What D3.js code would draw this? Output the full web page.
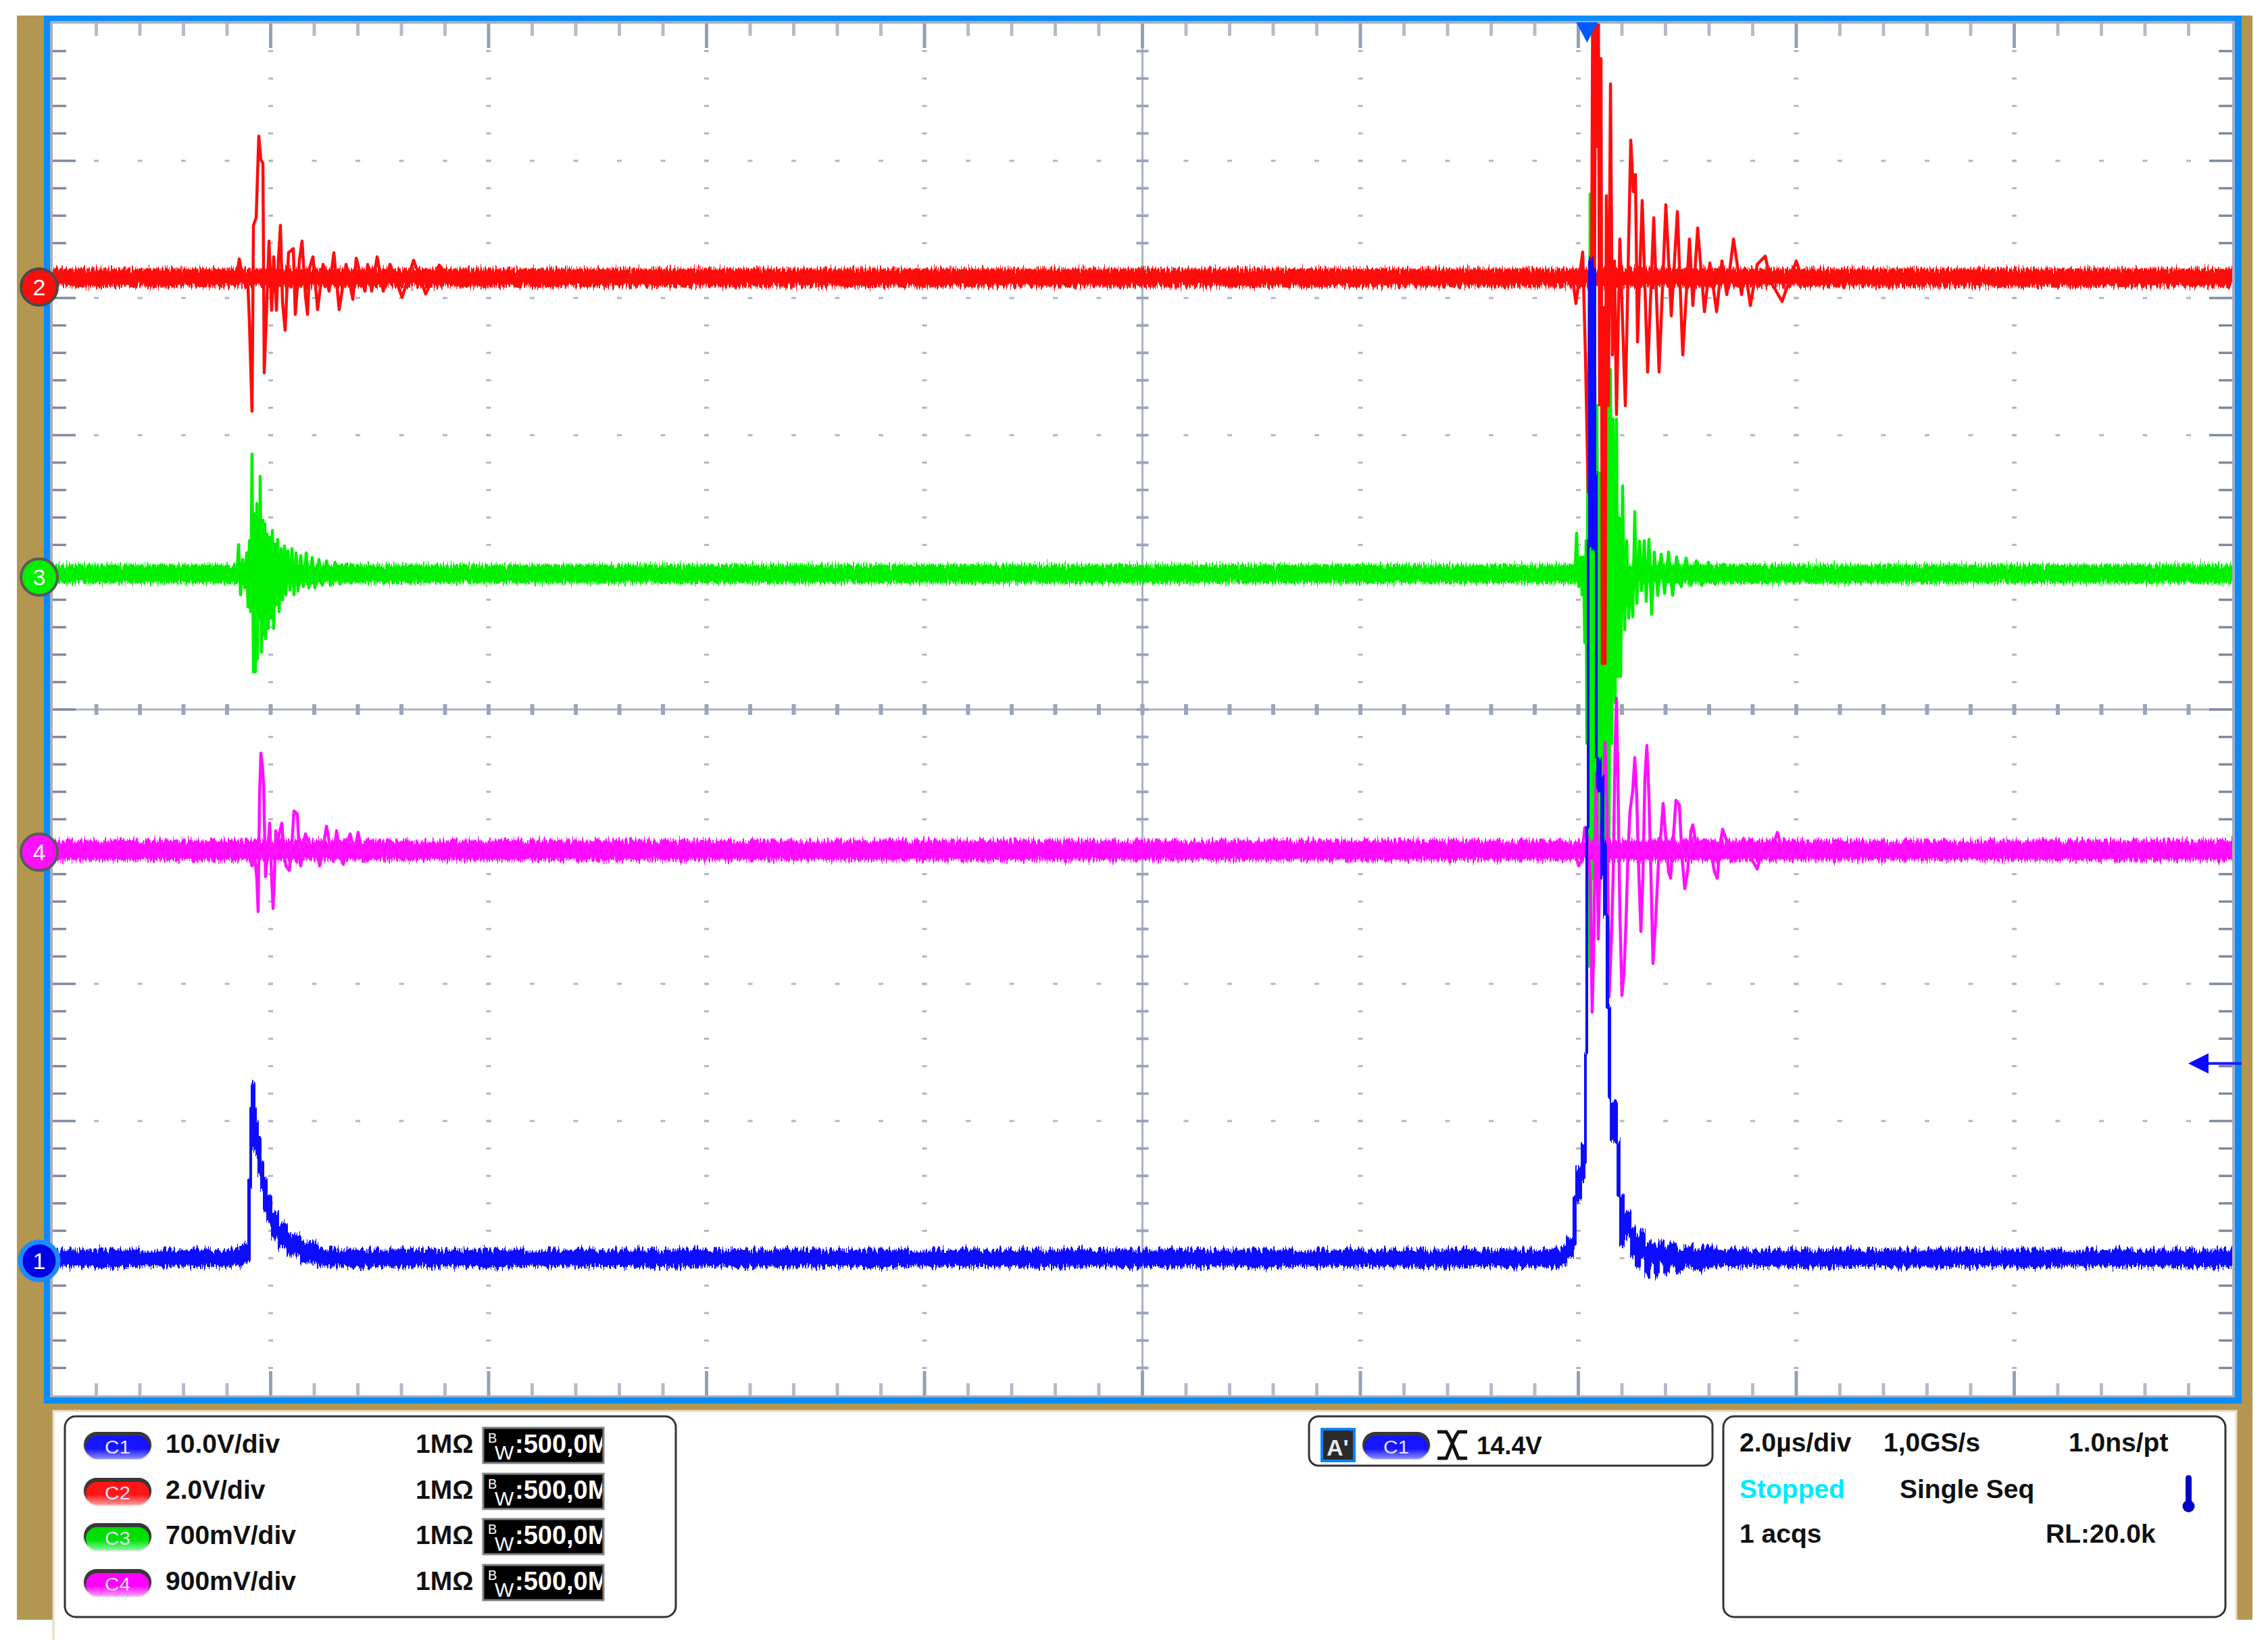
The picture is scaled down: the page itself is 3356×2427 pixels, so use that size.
<!DOCTYPE html>
<html><head><meta charset="utf-8">
<script src="https://cdn.jsdelivr.net/npm/d3@7"></script>
<style>body{margin:0;background:#fff;} svg{display:block;} text{font-family:"Liberation Sans",Arial,sans-serif;}</style>
</head><body><svg id="c" width="3356" height="2427"></svg>
<script>
// ---------------- data ----------------
const timeDomainUs = [0, 20];              // 2.0 µs/div x 10 div
const triggerTimeUs = 14.08;
const triggerLevelV = 14.4;
const channelNames = ["C1", "C2", "C3", "C4"];
const voltsPerDiv = [10.0, 2.0, 0.7, 0.9];
const offsetDivs = [-4.02, 3.08, 0.965, -1.04];
const scaleLabels = ["10.0V/div", "2.0V/div", "700mV/div", "900mV/div"];
const couplingLabels = ["1MΩ", "1MΩ", "1MΩ", "1MΩ"];
const bandwidthLabels = [":500,0M", ":500,0M", ":500,0M", ":500,0M"];
const timebaseRow1 = ["2.0µs/div", "1,0GS/s", "1.0ns/pt"];
const timebaseRow2 = ["Stopped", "Single Seq"];
const timebaseRow3 = ["1 acqs", "RL:20.0k"];

// C1 envelope [t µs, min V, max V]
const c1Envelope = [
[0,-0.39,0.79],[1.656,-0.30,0.94],[1.749,-0.10,1.28],[1.792,0.00,5.96],[1.811,5.22,11.13],[1.823,8.18,13.00],
[1.854,8.18,11.13],[1.867,7.59,10.15],[1.885,6.21,8.92],[1.910,5.12,7.44],[1.935,3.74,5.96],[1.966,2.86,4.73],
[2.009,1.67,3.50],[2.071,1.03,2.66],[2.152,0.39,1.87],[2.276,-0.10,1.38],[2.431,-0.39,0.89],[2.617,-0.39,0.79],
[13.842,-0.20,1.03],[13.892,0.30,1.67],[13.953,1.03,4.63],[13.978,4.48,6.75],[14.028,5.91,8.42],[14.059,7.29,15.22],
[14.071,15.22,31.63],[14.084,31.63,52.51],[14.096,51.97,72.96],[14.133,51.97,72.22],[14.158,36.75,57.44],
[14.171,34.19,36.75],[14.208,27.88,35.27],[14.233,25.12,30.34],[14.257,18.62,25.12],[14.276,11.97,18.62],
[14.295,8.72,11.58],[14.357,4.78,8.72],[14.381,1.08,4.78],[14.419,1.77,3.65],
[14.481,0.30,2.51],[14.524,-0.34,1.77],[14.568,0.20,2.17],[14.611,-1.03,1.28],[14.654,-0.20,1.38],[14.698,-1.08,1.03],
[14.741,-0.10,1.48],[14.785,-0.89,0.99],[14.834,-0.30,1.28],[14.896,-0.79,0.89],[14.971,-0.39,1.18],[15.051,-0.69,0.89],
[15.144,-0.49,1.03],[15.269,-0.39,0.79],[20,-0.39,0.79]
];

// baseline noise bands [t µs, min V, max V]
const c2Band = [[0,0.01,0.26],[20,0.01,0.26]];
const c3Band = [[0,-0.028,0.062],[20,-0.028,0.062]];
const c4Band = [[0,-0.049,0.075],[20,-0.049,0.075]];

// ringing bursts [t µs, V]
const c2Burst1 = [
[1.687,0.13],[1.712,0.41],[1.736,0.20],[1.792,0.00],[1.805,-0.51],[1.829,-1.81],[1.842,0.90],[1.867,1.01],[1.891,2.20],
[1.910,1.86],[1.929,1.80],[1.941,-1.25],[1.960,-0.45],[1.985,0.67],[2.009,-0.34],[2.028,0.44],[2.053,-0.34],[2.071,0.39],
[2.090,0.90],[2.109,-0.23],[2.133,-0.63],[2.164,0.50],[2.208,0.56],[2.226,-0.40],[2.264,0.39],[2.288,0.67],[2.319,-0.12],
[2.338,-0.40],[2.357,0.28],[2.388,0.44],[2.431,-0.33],[2.481,0.33],[2.536,-0.06],[2.580,0.50],[2.629,-0.33],[2.692,0.33],
[2.754,-0.18],[2.785,0.42],[2.865,-0.06],[2.890,0.33],[2.927,-0.06],[2.977,0.44],[3.033,-0.06],[3.095,0.33],[3.206,-0.15],
[3.312,0.39],[3.423,-0.10],[3.547,0.32],[3.640,0.13]
];
const c2Burst2 = [
[13.904,0.14],[13.941,0.20],[13.978,-0.24],[14.009,0.14],[14.040,0.51],[14.065,-0.99],[14.090,-2.99],[14.102,0.33],
[14.115,-2.68],[14.133,4.78],[14.146,-1.33],[14.158,4.78],[14.171,2.05],[14.183,4.78],[14.195,-1.72],[14.208,3.33],
[14.220,-5.49],[14.233,-0.30],[14.245,-5.49],[14.257,1.33],[14.276,-1.73],[14.295,2.96],[14.313,-0.99],[14.332,0.38],
[14.350,-1.86],[14.381,0.70],[14.431,-1.73],[14.481,2.14],[14.505,1.39],[14.524,1.64],[14.543,-0.80],[14.586,1.26],
[14.636,-1.24],[14.692,1.01],[14.741,-1.24],[14.803,1.20],[14.853,-0.42],[14.909,1.10],[14.958,-0.99],[15.020,0.70],
[15.051,-0.27],[15.095,0.86],[15.157,-0.36],[15.207,0.35],[15.269,-0.36],[15.318,0.38],[15.362,-0.11],[15.424,0.70],
[15.498,-0.11],[15.529,0.27],[15.579,-0.27],[15.641,0.33],[15.715,0.45],[15.765,0.08],[15.870,-0.21],[16.000,0.38],
[16.075,0.01],[16.168,0.20]
];
const c3Burst1 = [
[1.625,0.014],[1.662,0.055],[1.687,-0.028],[1.705,0.166],[1.724,-0.090],[1.743,0.090],[1.761,-0.055],[1.780,0.124],
[1.792,-0.152],[1.805,0.186],[1.817,-0.176],[1.829,0.628],[1.842,-0.483],[1.854,0.324],[1.860,-0.483],[1.873,0.376],
[1.879,-0.417],[1.891,0.221],[1.898,-0.210],[1.904,0.514],[1.916,-0.383],[1.929,0.290],[1.935,-0.297],[1.947,0.272],
[1.953,-0.314],[1.966,0.221],[1.978,-0.262],[1.991,0.203],[2.003,-0.210],[2.016,0.238],[2.028,-0.262],[2.040,0.169],
[2.053,-0.141],[2.065,0.193],[2.078,-0.176],[2.096,0.145],[2.109,-0.117],[2.127,0.159],[2.140,-0.090],[2.158,0.134],
[2.177,-0.066],[2.195,0.145],[2.214,-0.090],[2.233,0.124],[2.251,-0.072],[2.276,0.110],[2.301,-0.048],[2.326,0.124],
[2.350,-0.055],[2.381,0.100],[2.406,-0.055],[2.443,0.090],[2.474,-0.041],[2.512,0.083],[2.549,-0.041],[2.592,0.076],
[2.636,-0.034],[2.692,0.066],[2.741,-0.028],[2.803,0.048],[2.865,-0.014],[2.927,0.017]
];
const c3Burst2 = [
[13.904,0.014],[13.941,0.055],[13.966,-0.028],[13.984,0.224],[14.003,-0.048],[14.022,0.103],[14.034,-0.090],[14.047,0.103],
[14.059,-0.334],[14.071,0.186],[14.078,-0.848],[14.090,1.014],[14.096,-1.986],[14.108,1.955],[14.115,-1.986],[14.127,1.614],
[14.139,-1.538],[14.152,1.024],[14.164,-1.193],[14.171,0.876],[14.183,-1.790],[14.195,0.531],[14.208,-1.393],[14.220,0.324],
[14.233,-1.393],[14.245,0.607],[14.257,-1.393],[14.270,1.059],[14.282,-1.393],[14.295,1.059],[14.307,-0.848],[14.319,0.807],
[14.338,-0.641],[14.350,0.807],[14.363,-0.507],[14.375,0.303],[14.388,-0.507],[14.406,0.466],[14.425,-0.269],[14.444,0.186],
[14.462,-0.210],[14.481,0.048],[14.499,-0.203],[14.518,0.334],[14.536,-0.134],[14.561,0.183],[14.580,-0.069],[14.605,0.186],
[14.623,-0.124],[14.648,0.193],[14.673,-0.190],[14.697,0.128],[14.729,-0.093],[14.760,0.117],[14.791,-0.083],[14.828,0.128],
[14.865,-0.093],[14.902,0.103],[14.946,-0.048],[14.989,0.097],[15.033,-0.041],[15.083,0.083],[15.132,-0.041],[15.194,0.076],
[15.256,-0.034],[15.330,0.066],[15.405,-0.028],[15.486,0.048],[15.579,-0.014],[15.671,0.017]
];
const c4Burst1 = [
[1.687,0.01],[1.761,0.03],[1.798,0.00],[1.829,-0.09],[1.854,-0.03],[1.873,-0.17],[1.885,-0.39],[1.898,0.36],[1.910,0.65],
[1.923,0.58],[1.935,0.45],[1.953,-0.16],[1.972,0.00],[1.991,0.19],[2.009,-0.17],[2.022,-0.37],[2.034,-0.17],[2.047,0.14],
[2.065,0.00],[2.078,0.12],[2.102,0.19],[2.121,0.00],[2.140,-0.09],[2.171,-0.12],[2.195,0.05],[2.214,0.27],[2.245,0.25],
[2.264,-0.04],[2.276,-0.09],[2.319,0.12],[2.357,0.05],[2.381,0.00],[2.419,0.03],[2.450,-0.09],[2.481,0.03],[2.512,0.17],
[2.543,0.05],[2.574,-0.06],[2.605,0.14],[2.636,0.00],[2.667,-0.08],[2.698,0.05],[2.729,0.12],[2.766,0.00],[2.803,0.13],
[2.853,-0.06],[2.896,0.05],[2.946,-0.03],[2.989,0.07],[3.039,-0.02],[3.088,0.06],[3.144,0.01]
];
const c4Burst2 = [
[13.904,0.03],[13.966,0.00],[14.003,-0.09],[14.028,-0.06],[14.059,0.16],[14.090,0.09],[14.108,-0.17],[14.127,-1.05],
[14.139,-0.70],[14.164,0.52],[14.183,-0.57],[14.202,0.05],[14.226,0.36],[14.245,0.72],[14.264,0.27],[14.282,-0.95],
[14.301,-0.62],[14.319,-0.17],[14.338,0.71],[14.350,1.01],[14.363,0.49],[14.381,-0.39],[14.400,-0.94],[14.419,-0.79],
[14.437,-0.47],[14.456,0.00],[14.474,0.27],[14.499,0.40],[14.518,0.62],[14.536,0.36],[14.555,-0.14],[14.574,-0.52],
[14.592,-0.17],[14.611,0.49],[14.629,0.70],[14.648,0.36],[14.667,-0.17],[14.685,-0.73],[14.710,-0.44],[14.735,-0.07],
[14.760,0.14],[14.778,0.32],[14.803,0.09],[14.828,-0.13],[14.847,-0.17],[14.871,0.09],[14.896,0.34],[14.927,0.31],
[14.952,-0.04],[14.977,-0.24],[15.002,-0.13],[15.033,0.14],[15.051,0.18],[15.076,0.07],[15.101,-0.03],[15.132,0.07],
[15.169,0.08],[15.207,0.03],[15.250,-0.13],[15.275,-0.17],[15.300,0.05],[15.324,0.15],[15.362,0.07],[15.405,0.03],
[15.455,-0.02],[15.517,0.09],[15.579,-0.03],[15.641,-0.11],[15.703,0.05],[15.765,0.00],[15.827,0.13],[15.889,-0.04],
[15.982,0.07],[16.075,-0.02],[16.199,0.05],[16.323,0.01]
];

// ---------------- styles ----------------
const traceColors = ["#0a0aff", "#ff0d0d", "#00f000", "#ff10ff"];
const pillTop = ["#1414ff", "#ff1515", "#00dd00", "#ff00ff"];
const pillBottom = ["#8c8cff", "#ff9a9a", "#7dff9a", "#ff9cff"];
const markerStroke = ["#1a8cff", "#4a4a4a", "#5a5a5a", "#5a5a5a"];

// ---------------- drawing ----------------
const svg = d3.select("#c");
const P = {x0: 78, x1: 3303, y0: 35, y1: 2065};
const x = d3.scaleLinear().domain(timeDomainUs).range([P.x0, P.x1]);
const yDiv = d3.scaleLinear().domain([-5, 5]).range([P.y1, P.y0]);
const yCh = (i, v) => yDiv(offsetDivs[i] + v / voltsPerDiv[i]);

const defs = svg.append("defs");
defs.append("clipPath").attr("id", "plotclip").append("rect")
  .attr("x", P.x0).attr("y", P.y0).attr("width", P.x1 - P.x0).attr("height", P.y1 - P.y0);
channelNames.forEach((n, i) => {
  const gr = defs.append("linearGradient").attr("id", "pg" + i).attr("x1", 0).attr("y1", 0).attr("x2", 0).attr("y2", 1);
  gr.append("stop").attr("offset", "0%").attr("stop-color", pillTop[i]);
  gr.append("stop").attr("offset", "55%").attr("stop-color", pillTop[i]);
  gr.append("stop").attr("offset", "100%").attr("stop-color", pillBottom[i]);
});
defs.append("clipPath").attr("id", "bwclip").append("rect").attr("x", 0).attr("y", -60).attr("width", 176).attr("height", 100);
// display-raster roughness of the trace edges (vertical only)
const flt = defs.append("filter").attr("id", "rough").attr("filterUnits", "userSpaceOnUse")
  .attr("x", 0).attr("y", 0).attr("width", 3356).attr("height", 2427);
flt.append("feTurbulence").attr("type", "fractalNoise").attr("baseFrequency", "0.45 0.03").attr("numOctaves", 2).attr("seed", 7).attr("result", "n0");
flt.append("feColorMatrix").attr("in", "n0").attr("type", "matrix")
  .attr("values", "0 0 0 0 0.5  0 1 0 0 0  0 0 0 0 0  0 0 0 0 1").attr("result", "n");
flt.append("feDisplacementMap").attr("in", "SourceGraphic").attr("in2", "n").attr("scale", 22)
  .attr("xChannelSelector", "R").attr("yChannelSelector", "G");

// frame
svg.append("rect").attr("x", 25).attr("y", 23).attr("width", 3308).attr("height", 2374).attr("fill", "#b39650");
svg.append("rect").attr("x", 78).attr("y", 2087).attr("width", 3232).attr("height", 340).attr("fill", "#ffffff");
svg.append("path").attr("d", "M79,2427 V2088 H3309 V2397").attr("fill", "none").attr("stroke", "#e8dcc0").attr("stroke-width", 3);
svg.append("rect").attr("x", 65).attr("y", 23).attr("width", 3252).attr("height", 2054).attr("fill", "#0a8cff");
svg.append("rect").attr("x", 74).attr("y", 31).attr("width", 3233).attr("height", 2037).attr("fill", "#a6afc1");
svg.append("rect").attr("x", P.x0).attr("y", P.y0).attr("width", P.x1 - P.x0).attr("height", P.y1 - P.y0).attr("fill", "#ffffff");

// grid
const grid = svg.append("g");
const near = (a, b) => Math.abs(a - b) < 1e-6;
const minorT = d3.range(0, 20.0001, 0.4);
const minorD = d3.range(-5, 5.0001, 0.2);
const majorT = d3.range(0, 20.0001, 2);
const majorD = d3.range(-5, 5.0001, 1);
const isMajT = t => near(t / 2, Math.round(t / 2));
const isMajD = d => near(d, Math.round(d));
majorT.filter(t => t > 0.1 && t < 19.9 && !near(t, 10)).forEach(t => {
  minorD.filter(d => d > -4.9 && d < 4.9).forEach(d => {
    grid.append("rect").attr("x", x(t) - 3.5).attr("y", yDiv(d) - 1.5).attr("width", 7).attr("height", 3).attr("fill", "#aeb6c6");
  });
});
majorD.filter(d => d > -4.9 && d < 4.9 && !near(d, 0)).forEach(d => {
  minorT.filter(t => t > 0.1 && t < 19.9).forEach(t => {
    grid.append("rect").attr("x", x(t) - 3.5).attr("y", yDiv(d) - 1.5).attr("width", 7).attr("height", 3).attr("fill", "#aeb6c6");
  });
});
grid.append("line").attr("x1", P.x0).attr("x2", P.x1).attr("y1", yDiv(0)).attr("y2", yDiv(0)).attr("stroke", "#aab2c3").attr("stroke-width", 3);
grid.append("line").attr("x1", x(10)).attr("x2", x(10)).attr("y1", P.y0).attr("y2", P.y1).attr("stroke", "#aab2c3").attr("stroke-width", 3);
minorT.filter(t => t > 0.1 && t < 19.9).forEach(t => {
  grid.append("rect").attr("x", x(t) - 3).attr("y", yDiv(0) - 8).attr("width", 6).attr("height", 16).attr("fill", "#9ca5b8");
});
minorD.filter(d => d > -4.9 && d < 4.9).forEach(d => {
  grid.append("rect").attr("x", x(10) - 9).attr("y", yDiv(d) - 2).attr("width", 18).attr("height", 4).attr("fill", "#9ca5b8");
});
minorT.filter(t => t > 0.1 && t < 19.9).forEach(t => {
  const m = isMajT(t), len = m ? 36 : 18, col = m ? "#96a0b4" : "#b3bbca";
  grid.append("rect").attr("x", x(t) - 2.5).attr("y", P.y0).attr("width", 5).attr("height", len).attr("fill", col);
  grid.append("rect").attr("x", x(t) - 2.5).attr("y", P.y1 - len).attr("width", 5).attr("height", len).attr("fill", col);
});
minorD.filter(d => d > -4.9 && d < 4.9).forEach(d => {
  const m = isMajD(d), len = m ? 34 : 20;
  grid.append("rect").attr("x", P.x0).attr("y", yDiv(d) - 1.75).attr("width", len).attr("height", 3.5).attr("fill", "#7f89a0");
  grid.append("rect").attr("x", P.x1 - len).attr("y", yDiv(d) - 1.75).attr("width", len).attr("height", 3.5).attr("fill", "#7f89a0");
});

// traces
const tr = svg.append("g").attr("clip-path", "url(#plotclip)");
const band = i => d3.area().curve(d3.curveStepAfter).x(d => x(d[0])).y0(d => yCh(i, d[1])).y1(d => yCh(i, d[2]));
const line = i => d3.line().x(d => x(d[0])).y(d => yCh(i, d[1]));
function drawLine(g, i, data) {
  g.append("path").datum(data).attr("d", line(i)).attr("fill", "none").attr("stroke", traceColors[i])
    .attr("stroke-width", 4.5).attr("stroke-linejoin", "round");
}
function drawBand(g, i, data) {
  g.append("path").datum(data).attr("d", band(i)).attr("fill", traceColors[i]).attr("stroke", traceColors[i]).attr("stroke-width", 2);
}
[2, 3, 1, 0].forEach(i => {
  const g = tr.append("g");
  const rg = g.append("g").attr("filter", "url(#rough)");
  if (i === 2) { drawBand(rg, 2, c3Band); drawLine(g, 2, c3Burst1); drawLine(g, 2, c3Burst2); }
  if (i === 3) { drawBand(rg, 3, c4Band); drawLine(g, 3, c4Burst1); drawLine(g, 3, c4Burst2); }
  if (i === 1) { drawBand(rg, 1, c2Band); drawLine(g, 1, c2Burst1); drawLine(g, 1, c2Burst2); }
  if (i === 0) { drawBand(rg, 0, c1Envelope); }
});

// trigger time marker
const tx = x(triggerTimeUs);
svg.append("path").attr("d", `M${tx - 16},${P.y0 - 2} L${tx + 16},${P.y0 - 2} L${tx},${P.y0 + 28} Z`).attr("fill", "#0058ff");
// trigger level arrow
const ty = yCh(0, triggerLevelV);
svg.append("line").attr("x1", 3256).attr("x2", 3317).attr("y1", ty).attr("y2", ty).attr("stroke", "#1a1aff").attr("stroke-width", 4);
svg.append("path").attr("d", `M3238,${ty} L3268,${ty - 15} L3268,${ty + 15} Z`).attr("fill", "#0a0aff");

// channel ground markers
[0, 1, 2, 3].forEach(i => {
  const my = yDiv(offsetDivs[i]);
  const mg = svg.append("g");
  mg.append("circle").attr("cx", 58).attr("cy", my).attr("r", i === 0 ? 28 : 27)
    .attr("fill", i === 0 ? "#0000e6" : traceColors[i]).attr("stroke", markerStroke[i]).attr("stroke-width", i === 0 ? 7 : 4);
  mg.append("text").attr("x", 58).attr("y", my + 12).attr("text-anchor", "middle").attr("font-size", 34)
    .attr("fill", "#ffffff").text(String(i + 1));
});

function pill(cx, cy, i) {
  const g = svg.append("g");
  g.append("rect").attr("x", cx - 51).attr("y", cy - 22).attr("width", 102).attr("height", 42).attr("rx", 21).attr("fill", "#cfcfcf").attr("opacity", 0.6);
  g.append("rect").attr("x", cx - 50).attr("y", cy - 22).attr("width", 100).attr("height", 38).attr("rx", 19).attr("fill", "#383838");
  g.append("rect").attr("x", cx - 47).attr("y", cy - 16).attr("width", 94).attr("height", 34).attr("rx", 17).attr("fill", `url(#pg${i})`);
  g.append("text").attr("x", cx).attr("y", cy + 10).attr("text-anchor", "middle").attr("font-size", 27)
    .attr("fill", "#e6e6ff").attr("textLength", 38).attr("lengthAdjust", "spacingAndGlyphs").text(channelNames[i]);
}

const boxStyle = sel => sel.attr("fill", "#ffffff").attr("stroke", "#333333").attr("stroke-width", 3);
svg.append("rect").attr("x", 96).attr("y", 2096).attr("width", 904).attr("height", 297).attr("rx", 16).call(boxStyle);
const rowBase = [2150, 2218, 2285, 2353];
channelNames.forEach((n, i) => {
  const b = rowBase[i];
  pill(174, b - 9, i);
  svg.append("text").attr("x", 245).attr("y", b).attr("font-size", 39).attr("font-weight", "bold").attr("fill", "#111").text(scaleLabels[i]);
  svg.append("text").attr("x", 615).attr("y", b).attr("font-size", 39).attr("font-weight", "bold").attr("fill", "#111").text(couplingLabels[i]);
  const bw = svg.append("g").attr("transform", `translate(715,${b})`);
  bw.append("rect").attr("x", 0).attr("y", -37).attr("width", 178).attr("height", 52).attr("fill", "#000").attr("stroke", "#808080").attr("stroke-width", 3);
  const bt = bw.append("g").attr("clip-path", "url(#bwclip)");
  bt.append("text").attr("x", 7).attr("y", -15).attr("font-size", 20).attr("fill", "#fff").text("B");
  bt.append("text").attr("x", 17).attr("y", 10).attr("font-size", 30).attr("fill", "#fff").text("W");
  bt.append("text").attr("x", 47).attr("y", 0).attr("font-size", 38).attr("font-weight", "bold").attr("fill", "#fff").text(bandwidthLabels[i]);
});

svg.append("rect").attr("x", 1937).attr("y", 2096).attr("width", 597).attr("height", 73).attr("rx", 14).call(boxStyle);
svg.append("rect").attr("x", 1956).attr("y", 2115).attr("width", 48).attr("height", 47).attr("fill", "#2a2a2a").attr("stroke", "#0a84ff").attr("stroke-width", 4);
svg.append("text").attr("x", 1963).attr("y", 2154).attr("font-size", 34).attr("font-weight", "bold").attr("fill", "#e8e8e8").text("A'");
pill(2066, 2141, 0);
svg.append("path").attr("d", "M2127,2119 H2140 C2148,2130 2152,2145 2158,2158 H2171 M2171,2119 H2158 C2150,2130 2146,2145 2140,2158 H2127")
  .attr("fill", "none").attr("stroke", "#111").attr("stroke-width", 5);
svg.append("text").attr("x", 2185).attr("y", 2152).attr("font-size", 37).attr("font-weight", "bold").attr("fill", "#111").text(triggerLevelV.toFixed(1) + "V");

svg.append("rect").attr("x", 2550).attr("y", 2096).attr("width", 743).attr("height", 297).attr("rx", 16).call(boxStyle);
const tbX1 = [2574, 2787, 3061];
timebaseRow1.forEach((s, k) => svg.append("text").attr("x", tbX1[k]).attr("y", 2148).attr("font-size", 39).attr("font-weight", "bold").attr("fill", "#111").text(s));
const tbX2 = [2574, 2811];
timebaseRow2.forEach((s, k) => svg.append("text").attr("x", tbX2[k]).attr("y", 2217).attr("font-size", 39).attr("font-weight", "bold")
  .attr("fill", k === 0 ? "#00eaff" : "#111").text(s));
const tbX3 = [2574, 3027];
timebaseRow3.forEach((s, k) => svg.append("text").attr("x", tbX3[k]).attr("y", 2283).attr("font-size", 39).attr("font-weight", "bold").attr("fill", "#111").text(s));
svg.append("rect").attr("x", 3234).attr("y", 2183).attr("width", 9).attr("height", 44).attr("rx", 4.5).attr("fill", "#0000c8");
svg.append("circle").attr("cx", 3238.5).attr("cy", 2229).attr("r", 9).attr("fill", "#0000c8");
</script>
</body></html>
